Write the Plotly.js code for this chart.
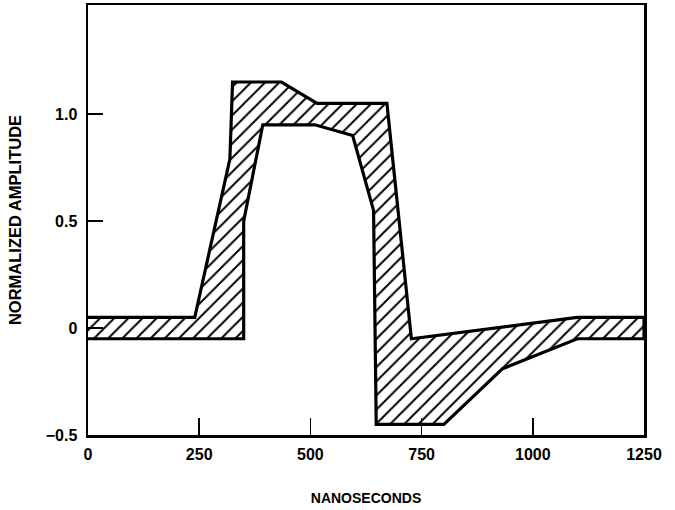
<!DOCTYPE html>
<html>
<head>
<meta charset="utf-8">
<script src="https://cdn.plot.ly/plotly-3.0.1.min.js"></script>
<style>html,body{margin:0;padding:0;background:#fff;}</style>
</head>
<body>
<div id="chart" style="width:675px;height:510px;"></div>
<script>
// Upper boundary of the envelope (nanoseconds, normalized amplitude)
var upperX = [0, 240, 319, 325, 435, 515, 672, 727, 1100, 1250];
var upperY = [0.05, 0.05, 0.79, 1.15, 1.15, 1.05, 1.05, -0.05, 0.05, 0.05];
// Lower boundary of the envelope
var lowerX = [0, 350, 350, 393, 510, 595, 642, 648, 800, 932, 1100, 1250];
var lowerY = [-0.05, -0.05, 0.5, 0.95, 0.95, 0.9, 0.55, -0.45, -0.45, -0.19, -0.05, -0.05];

var xTicks = [0, 250, 500, 750, 1000, 1250];
var xTickText = ['0', '250', '500', '750', '1000', '1250'];
var yTicks = [-0.5, 0, 0.5, 1.0];
var yTickText = ['\u22120.5', '0', '0.5', '1.0'];

var polyX = upperX.concat(lowerX.slice().reverse());
var polyY = upperY.concat(lowerY.slice().reverse());

var font = 'Liberation Sans, Arial, Helvetica, sans-serif';

var trace = {
  x: polyX,
  y: polyY,
  type: 'scatter',
  mode: 'lines',
  fill: 'toself',
  fillcolor: 'white',
  fillpattern: {shape: '/', size: 10, solidity: 0.2, fgcolor: 'black', bgcolor: 'white'},
  line: {color: 'black', width: 3.2},
  hoverinfo: 'skip',
  showlegend: false
};

var layout = {
  width: 675,
  height: 510,
  margin: {l: 88, r: 31, t: 5, b: 75},
  paper_bgcolor: 'white',
  plot_bgcolor: 'white',
  font: {family: font, color: 'black'},
  xaxis: {
    range: [0, 1250],
    tickvals: xTicks,
    ticktext: xTickText,
    ticks: 'inside',
    ticklen: 17,
    tickwidth: 1.5,
    tickcolor: 'black',
    showline: true,
    linecolor: 'black',
    linewidth: 2.5,
    mirror: true,
    showgrid: false,
    zeroline: false,
    tickfont: {family: font, size: 16, color: 'black', weight: 'bold'},
    ticklabelstandoff: 3,
    title: {text: '<b>NANOSECONDS</b>', font: {family: font, size: 14, color: 'black'}, standoff: 32}
  },
  yaxis: {
    range: [-0.5, 1.51],
    tickvals: yTicks,
    ticktext: yTickText,
    ticks: 'inside',
    ticklen: 15,
    tickwidth: 1.5,
    tickcolor: 'black',
    showline: true,
    linecolor: 'black',
    linewidth: 2.5,
    mirror: true,
    showgrid: false,
    zeroline: false,
    tickfont: {family: font, size: 16, color: 'black', weight: 'bold'},
    ticklabelstandoff: 5,
    title: {text: '<b>NORMALIZED AMPLITUDE</b>', font: {family: font, size: 16.5, color: 'black'}, standoff: 20}
  }
};

Plotly.newPlot('chart', [trace], layout, {staticPlot: true, displayModeBar: false});
</script>
</body>
</html>
